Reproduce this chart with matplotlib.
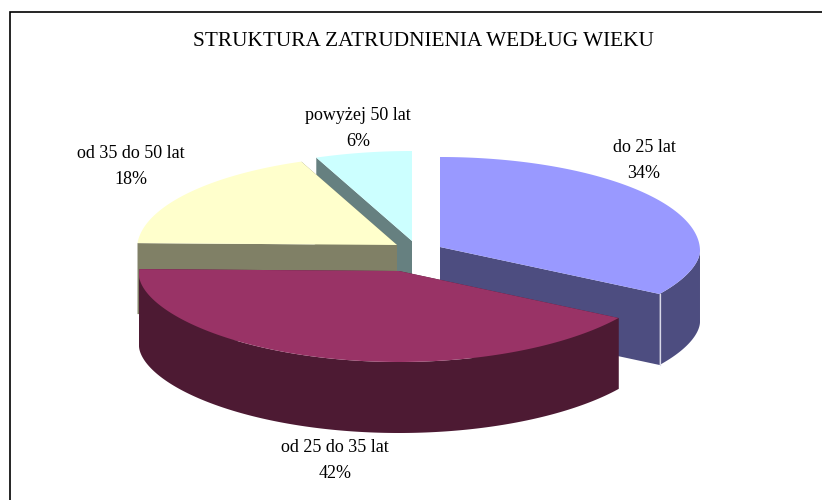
"""
Struktura zatrudnienia - exploded 3D style pie, drawn with polygons on a flat axes.
"""

import numpy as np
import matplotlib
matplotlib.use("Agg")
import matplotlib.pyplot as plt
from matplotlib.patches import Polygon

labels = ["do 25 lat", "od 25 do 35 lat", "od 35 do 50 lat", "powyżej 50 lat"]
values = [34, 42, 18, 6]

top_colors = ["#9999ff", "#993366", "#ffffcc", "#ccffff"]
side_colors = ["#4d4d80", "#4d1a33", "#808066", "#668080"]
centers = [(440, 247), (399, 271), (397, 245), (412, 241)]
label_pos = [(644, 161), (335, 460), (131, 166), (358, 128)]

RX, RY_BACK, RY_FRONT, DROP, DEPTH = 260, 94, 87, 4, 71


def rim(cx, cy, t):
    # t is clockwise from 12 o'clock, radians. back and front differ (perspective)
    c = np.cos(t)
    off = np.where(c > 0, RY_BACK * c, -RY_FRONT * np.abs(c) ** 1.13)
    return np.column_stack([cx + RX * np.sin(t), cy + DROP - off])


fig = plt.figure(figsize=(8.22, 5.0), dpi=100)
ax = fig.add_axes([0, 0, 1, 1])
ax.set_xlim(0, 822)
ax.set_ylim(500, 0)
ax.axis("off")

# frame only shows on the top and left
ax.plot([9.5, 9.5, 822], [500, 12, 12], color="black", lw=1.2, solid_joinstyle="miter")

edges = np.cumsum([0] + values) / sum(values) * 2 * np.pi
# back slices first so the front ones overlap them
order = [3, 2, 0, 1]
for i in order:
    cx, cy = centers[i]
    t = np.linspace(edges[i], edges[i + 1], 200)
    arc = rim(cx, cy, t)
    down = np.array([0, DEPTH])
    apex = np.array([cx, cy])
    # cut faces
    for end in (arc[0], arc[-1]):
        ax.add_patch(Polygon([apex, end, end + down, apex + down],
                             fc=side_colors[i], ec="none"))
    # outer wall, only the part that faces the viewer
    front = (t > np.pi / 2) & (t < 3 * np.pi / 2)
    if front.any():
        part = arc[front]
        ax.add_patch(Polygon(np.vstack([part, (part + down)[::-1]]),
                             fc=side_colors[i], ec="none"))
    ax.add_patch(Polygon(np.vstack([apex, arc]), fc=top_colors[i], ec="none"))
    # light seam between the cut face and the wall of the blue slice
    if i == 0:
        ax.plot([arc[-1][0]] * 2, [arc[-1][1], arc[-1][1] + DEPTH], color="#d8d8e8", lw=0.9)

ax.text(423, 42, "STRUKTURA ZATRUDNIENIA WEDŁUG WIEKU", ha="center", va="center",
        family="Liberation Serif", fontsize=15.3)
for name, val, (x, y) in zip(labels, values, label_pos):
    ax.text(x, y - 13, name, ha="center", va="center", family="Liberation Serif", fontsize=13)
    ax.text(x, y + 13, f"{val}%", ha="center", va="center", family="Liberation Serif", fontsize=13)

fig.savefig("out.png", dpi=100)
